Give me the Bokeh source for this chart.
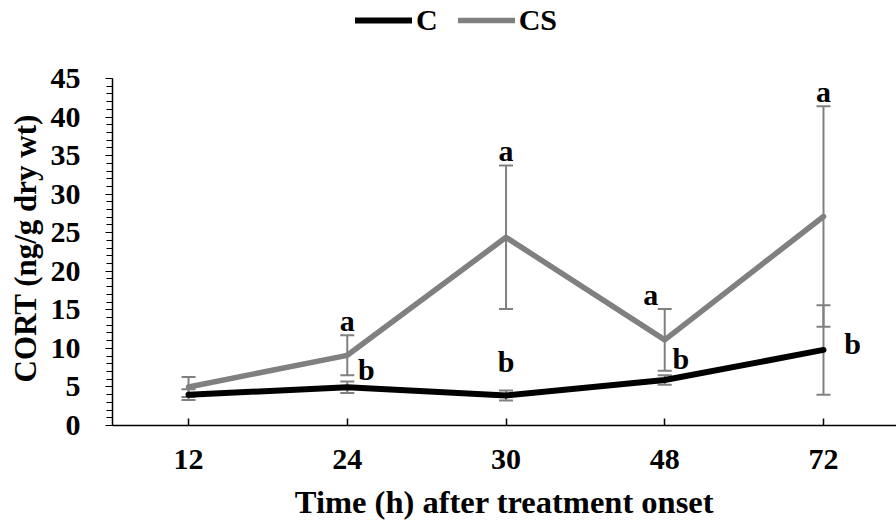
from bokeh.plotting import figure
from bokeh.models import (ColumnDataSource, Range1d, FixedTicker, SingleIntervalTicker,
                          Whisker, TeeHead, Legend, LegendItem, Title)
from bokeh.core.properties import value
from bokeh.embed import file_html
from bokeh.resources import INLINE

# ---- data ----
categories = ["12", "24", "30", "48", "72"]
c_mean = [4.0, 4.95, 3.9, 5.9, 9.8]
c_err = [0.7, 0.75, 0.65, 0.6, 5.8]
cs_mean = [5.0, 9.1, 24.4, 11.1, 27.1]
cs_err = [1.3, 2.6, 9.3, 4.0, 14.3]
y_axis_max = 45

# significance letters (a = CS, b = C), shown from 24 h on
a_idx = [1, 2, 3, 4]
b_idx = [1, 2, 3, 4]
b_label_y = [6.1, 7.1, 7.5, 9.5]

FONT = "Liberation Serif"
GRAY = "#808080"

x = list(range(len(categories)))

# frame spans the full height above the x axis; the y axis is bounded to 0..45,
# the extra room on top holds the legend
p = figure(width=896, height=524, output_backend="svg", toolbar_location=None,
           x_range=Range1d(-0.479, 4.46), y_range=Range1d(0, 55.11),
           min_border_left=112, min_border_right=0, min_border_top=0,
           min_border_bottom=99)
p.outline_line_color = None
p.xgrid.visible = False
p.ygrid.visible = False
p.background_fill_color = "white"
p.border_fill_color = "white"

# error bars
err_src = ColumnDataSource(dict(
    x=x + x,
    upper=[m + e for m, e in zip(c_mean, c_err)] + [m + e for m, e in zip(cs_mean, cs_err)],
    lower=[m - e for m, e in zip(c_mean, c_err)] + [m - e for m, e in zip(cs_mean, cs_err)],
))
wh = Whisker(source=err_src, base="x", upper="upper", lower="lower",
             line_color=GRAY, line_width=2,
             upper_head=TeeHead(size=14, line_color=GRAY, line_width=2),
             lower_head=TeeHead(size=14, line_color=GRAY, line_width=2))
p.add_layout(wh)

rc = p.line(x, c_mean, line_color="black", line_width=6, line_cap="round", line_join="round")
rcs = p.line(x, cs_mean, line_color=GRAY, line_width=5.5, line_cap="round", line_join="round")

# letters
a_src = ColumnDataSource(dict(
    x=[x[i] for i in a_idx],
    y=[cs_mean[i] + cs_err[i] for i in a_idx],
    t=["a"] * len(a_idx),
    dx=[0, 0, -14, 0],
))
p.text(x="x", y="y", text="t", x_offset="dx", y_offset=-15, source=a_src,
       text_font=value(FONT), text_font_style="bold", text_font_size="30px",
       text_align="center", text_baseline="alphabetic", text_color="black")

b_src = ColumnDataSource(dict(
    x=[x[i] for i in b_idx],
    y=b_label_y,
    t=["b"] * len(b_idx),
    dx=[19, 0, 16, 29],
))
p.text(x="x", y="y", text="t", x_offset="dx", y_offset=-9, source=b_src,
       text_font=value(FONT), text_font_style="bold", text_font_size="30px",
       text_align="center", text_baseline="alphabetic", text_color="black")

# axes
xa = p.xaxis[0]
xa.ticker = FixedTicker(ticks=x)
xa.major_label_overrides = {i: c for i, c in enumerate(categories)}
xa.major_tick_in = 7
xa.major_tick_out = 0
xa.minor_tick_line_color = None
xa.axis_line_width = 1.5
xa.major_tick_line_width = 1.5
xa.axis_line_color = "black"
xa.major_label_standoff = 24
xa.axis_label = "Time (h) after treatment onset"
xa.axis_label_standoff = 12

ya = p.yaxis[0]
ya.ticker = SingleIntervalTicker(interval=5, num_minor_ticks=5)
ya.bounds = (0, y_axis_max)
ya.major_tick_in = 0
ya.major_tick_out = 7
ya.minor_tick_in = 0
ya.minor_tick_out = 6
ya.axis_line_width = 1.5
ya.major_tick_line_width = 1.2
ya.minor_tick_line_width = 1
ya.minor_tick_line_color = "black"
ya.major_label_standoff = 25

for ax in (xa, ya):
    ax.major_label_text_font = FONT
    ax.major_label_text_font_style = "bold"
    ax.major_label_text_font_size = "30px"
    ax.major_label_text_color = "black"
    ax.axis_label_text_font = FONT
    ax.axis_label_text_font_style = "bold"
    ax.axis_label_text_font_size = "32.5px"
    ax.axis_label_text_color = "black"

# y-axis title, centred on the 0..45 part of the axis
ytitle = Title(text="CORT (ng/g dry wt)", align="left", offset=43, standoff=10,
               text_font=FONT, text_font_style="bold", text_font_size="31px",
               text_color="black")
p.add_layout(ytitle, "left")

legend = Legend(items=[LegendItem(label="C", renderers=[rc]),
                       LegendItem(label="CS", renderers=[rcs])],
                orientation="horizontal", location=(243, 388),
                padding=0, margin=0, spacing=20, glyph_width=57, glyph_height=30,
                label_height=30, label_standoff=4, border_line_color=None,
                background_fill_alpha=0, label_text_font=FONT, label_text_color="black",
                label_text_font_style="bold", label_text_font_size="30px")
p.add_layout(legend)

open("out.html", "w").write(file_html(p, INLINE))
